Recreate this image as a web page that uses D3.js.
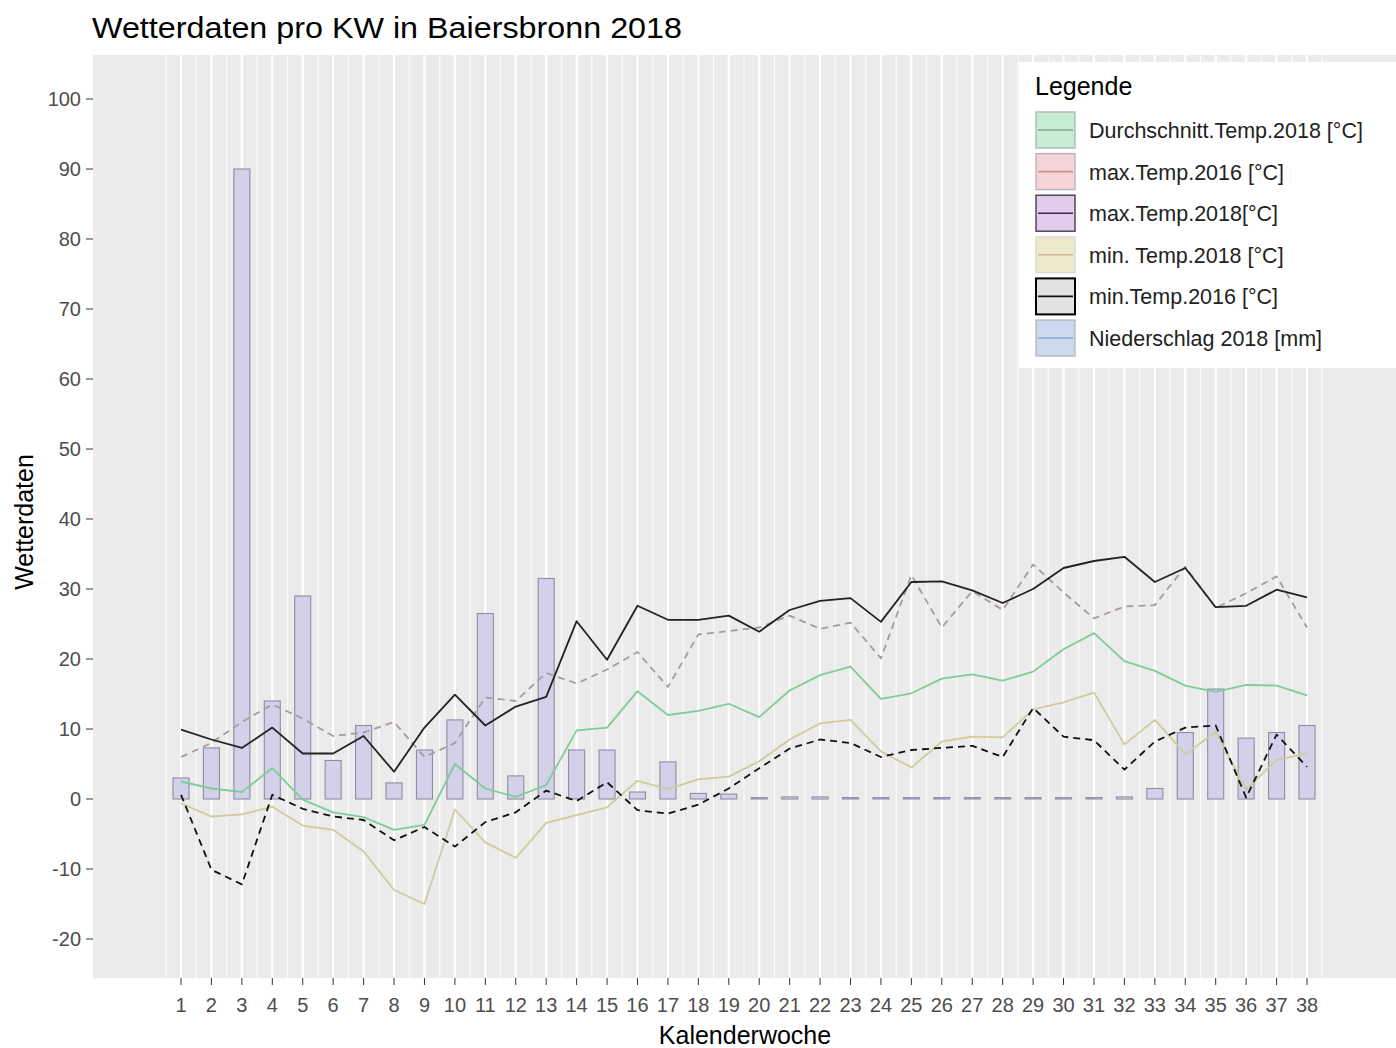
<!DOCTYPE html>
<html><head><meta charset="utf-8">
<script src="https://cdn.jsdelivr.net/npm/d3@7"></script>
<style>body{margin:0;background:#fff;} svg{display:block;font-family:"Liberation Sans",Arial,sans-serif;}</style>
</head><body>
<svg id="chart" width="1396" height="1048"></svg>
<script>
const weeks = d3.range(1, 39);
const avgTemp2018 = [2.5,1.5,1,4.4,-0.1,-1.9,-2.6,-4.4,-3.7,5,1.5,0.3,2,9.8,10.2,15.4,12,12.6,13.6,11.7,15.5,17.7,18.9,14.3,15.1,17.2,17.8,16.9,18.2,21.4,23.7,19.7,18.3,16.2,15.3,16.3,16.2,14.8];
const maxTemp2016 = [6,8,11,13.5,11.5,9,9.5,11,6,8,14.5,14,18,16.5,18.5,21,16,23.5,24,24.5,26.2,24.3,25.2,20.1,32,24.5,29.7,27,33.5,29.5,25.8,27.5,27.7,33.2,27.3,29.4,31.8,24.5];
const maxTemp2018 = [9.9,8.5,7.3,10.2,6.5,6.5,9,3.9,10.2,14.9,10.5,13.2,14.6,25.4,19.9,27.6,25.6,25.6,26.2,23.9,27,28.3,28.7,25.3,31,31.1,29.8,28,30,33,34,34.6,31,33,27.4,27.6,29.9,28.8];
const minTemp2018 = [-0.6,-2.5,-2.2,-1.1,-3.8,-4.4,-7.5,-13,-15,-1.5,-6.2,-8.4,-3.4,-2.3,-1.2,2.6,1.4,2.8,3.2,5.4,8.5,10.8,11.3,6.8,4.5,8.2,8.9,8.8,12.8,13.8,15.2,7.8,11.3,6.4,9.6,1.3,5.6,6.5];
const minTemp2016 = [0.6,-10.1,-12.2,0.6,-1.4,-2.5,-3,-5.9,-4,-6.8,-3.3,-1.9,1.2,-0.3,2.4,-1.6,-2.1,-0.8,1.5,4.4,7.2,8.5,8,6,7,7.3,7.6,6,13,8.9,8.4,4.2,8.2,10.2,10.5,0.2,9.2,4.6];
const rain2018 = [3,7.3,90,14,29,5.5,10.5,2.3,7,11.3,26.5,3.3,31.5,7,7,1,5.3,0.8,0.7,0.2,0.3,0.3,0.2,0.2,0.2,0.2,0.2,0.2,0.2,0.2,0.2,0.3,1.5,9.5,15.7,8.7,9.5,10.5];
const yTicks = [100,90,80,70,60,50,40,30,20,10,0,-10,-20];
const legendLabels = ["Durchschnitt.Temp.2018 [°C]","max.Temp.2016 [°C]","max.Temp.2018[°C]","min. Temp.2018 [°C]","min.Temp.2016 [°C]","Niederschlag 2018 [mm]"];

const svg = d3.select("#chart");
const P = {l:93, r:1396, t:55, b:978};
const x = d3.scaleLinear().domain([1,38]).range([181,1307]);
const y = d3.scaleLinear().domain([0,100]).range([799,99]);

// title
svg.append("text").attr("x",92).attr("y",38).attr("font-size",30).attr("fill","#000")
  .attr("textLength",590).attr("lengthAdjust","spacingAndGlyphs")
  .text("Wetterdaten pro KW in Baiersbronn 2018");

// panel
svg.append("rect").attr("x",P.l).attr("y",P.t).attr("width",P.r-P.l).attr("height",P.b-P.t).attr("fill","#EBEBEB");
const g = svg.append("g");
const xMinor = d3.range(0.5, 39, 1);
g.selectAll(".vmin").data(xMinor).enter().append("line")
  .attr("x1",d=>x(d)).attr("x2",d=>x(d)).attr("y1",P.t).attr("y2",P.b)
  .attr("stroke","#fff").attr("stroke-width",1.2).attr("opacity",0.8);
g.selectAll(".vmaj").data(weeks).enter().append("line")
  .attr("x1",d=>x(d)).attr("x2",d=>x(d)).attr("y1",P.t).attr("y2",P.b)
  .attr("stroke","#fff").attr("stroke-width",2.2);

// bars
const bw = 16;
g.selectAll(".bar").data(weeks).enter().append("rect")
  .attr("x",d=>x(d)-bw/2).attr("width",bw)
  .attr("y",(d,i)=>y(rain2018[i])).attr("height",(d,i)=>Math.max(0.5,y(0)-y(rain2018[i])))
  .attr("fill","#D3D1EA").attr("stroke","#8E8CA0").attr("stroke-width",1.1);

function drawLine(vals, color, width, dash){
  const line = d3.line().x((d,i)=>x(weeks[i])).y(d=>y(d));
  g.append("path").datum(vals).attr("d",line).attr("fill","none")
    .attr("stroke",color).attr("stroke-width",width)
    .attr("stroke-dasharray",dash||null).attr("stroke-linejoin","round");
}
drawLine(minTemp2018, "#CFCB9C", 1.8);
drawLine(avgTemp2018, "#7FCC98", 1.8);
drawLine(maxTemp2016, "#A89A9E", 1.8, "7,5");
drawLine(minTemp2016, "#111", 1.8, "7,5");
drawLine(maxTemp2018, "#222", 1.8);

// y axis
const ya = svg.append("g");
yTicks.forEach(t=>{
  ya.append("line").attr("x1",86).attr("x2",93).attr("y1",y(t)).attr("y2",y(t)).attr("stroke","#333").attr("stroke-width",1);
  ya.append("text").attr("x",81).attr("y",y(t)+7).attr("text-anchor","end").attr("font-size",20).attr("fill","#4D4D4D").text(t);
});
// x axis
const xa = svg.append("g");
weeks.forEach(w=>{
  xa.append("line").attr("x1",x(w)).attr("x2",x(w)).attr("y1",978).attr("y2",985).attr("stroke","#333").attr("stroke-width",1);
  xa.append("text").attr("x",x(w)).attr("y",1012).attr("text-anchor","middle").attr("font-size",20).attr("fill","#4D4D4D").text(w);
});
svg.append("text").attr("x",745).attr("y",1044).attr("text-anchor","middle").attr("font-size",25).attr("fill","#000").text("Kalenderwoche");
svg.append("text").attr("transform","translate(33,522) rotate(-90)").attr("text-anchor","middle").attr("font-size",25).attr("fill","#000").text("Wetterdaten");

// legend
const lg = svg.append("g");
lg.append("rect").attr("x",1019).attr("y",62).attr("width",377).attr("height",306).attr("fill","#fff");
lg.append("text").attr("x",1035).attr("y",95).attr("font-size",25).attr("fill","#000").text("Legende");
const keyFill = ["#C7EBD3","#F5D3D6","#E2CCEC","#EFE9CC","#E2E2E2","#CBD9EE"];
const keyStroke = ["#A9B5AE","#B9AFB1","#3A3040","#D8D8D8","#000","#B5B5B5"];
const keyLine = ["#7FA88E","#D98C90","#3A2A45","#C9B98A","#111","#8FA8C8"];
legendLabels.forEach((lab,i)=>{
  const cy = 130 + i*41.6;
  lg.append("rect").attr("x",1036).attr("y",cy-18).attr("width",39).attr("height",36)
    .attr("fill",keyFill[i]).attr("stroke",keyStroke[i]).attr("stroke-width",i===4?2:1.3);
  lg.append("line").attr("x1",1038).attr("x2",1073).attr("y1",cy).attr("y2",cy).attr("stroke",keyLine[i]).attr("stroke-width",1.6);
  lg.append("text").attr("x",1089).attr("y",cy+8).attr("font-size",21.5).attr("fill","#222").text(lab);
});
</script>
</body></html>
